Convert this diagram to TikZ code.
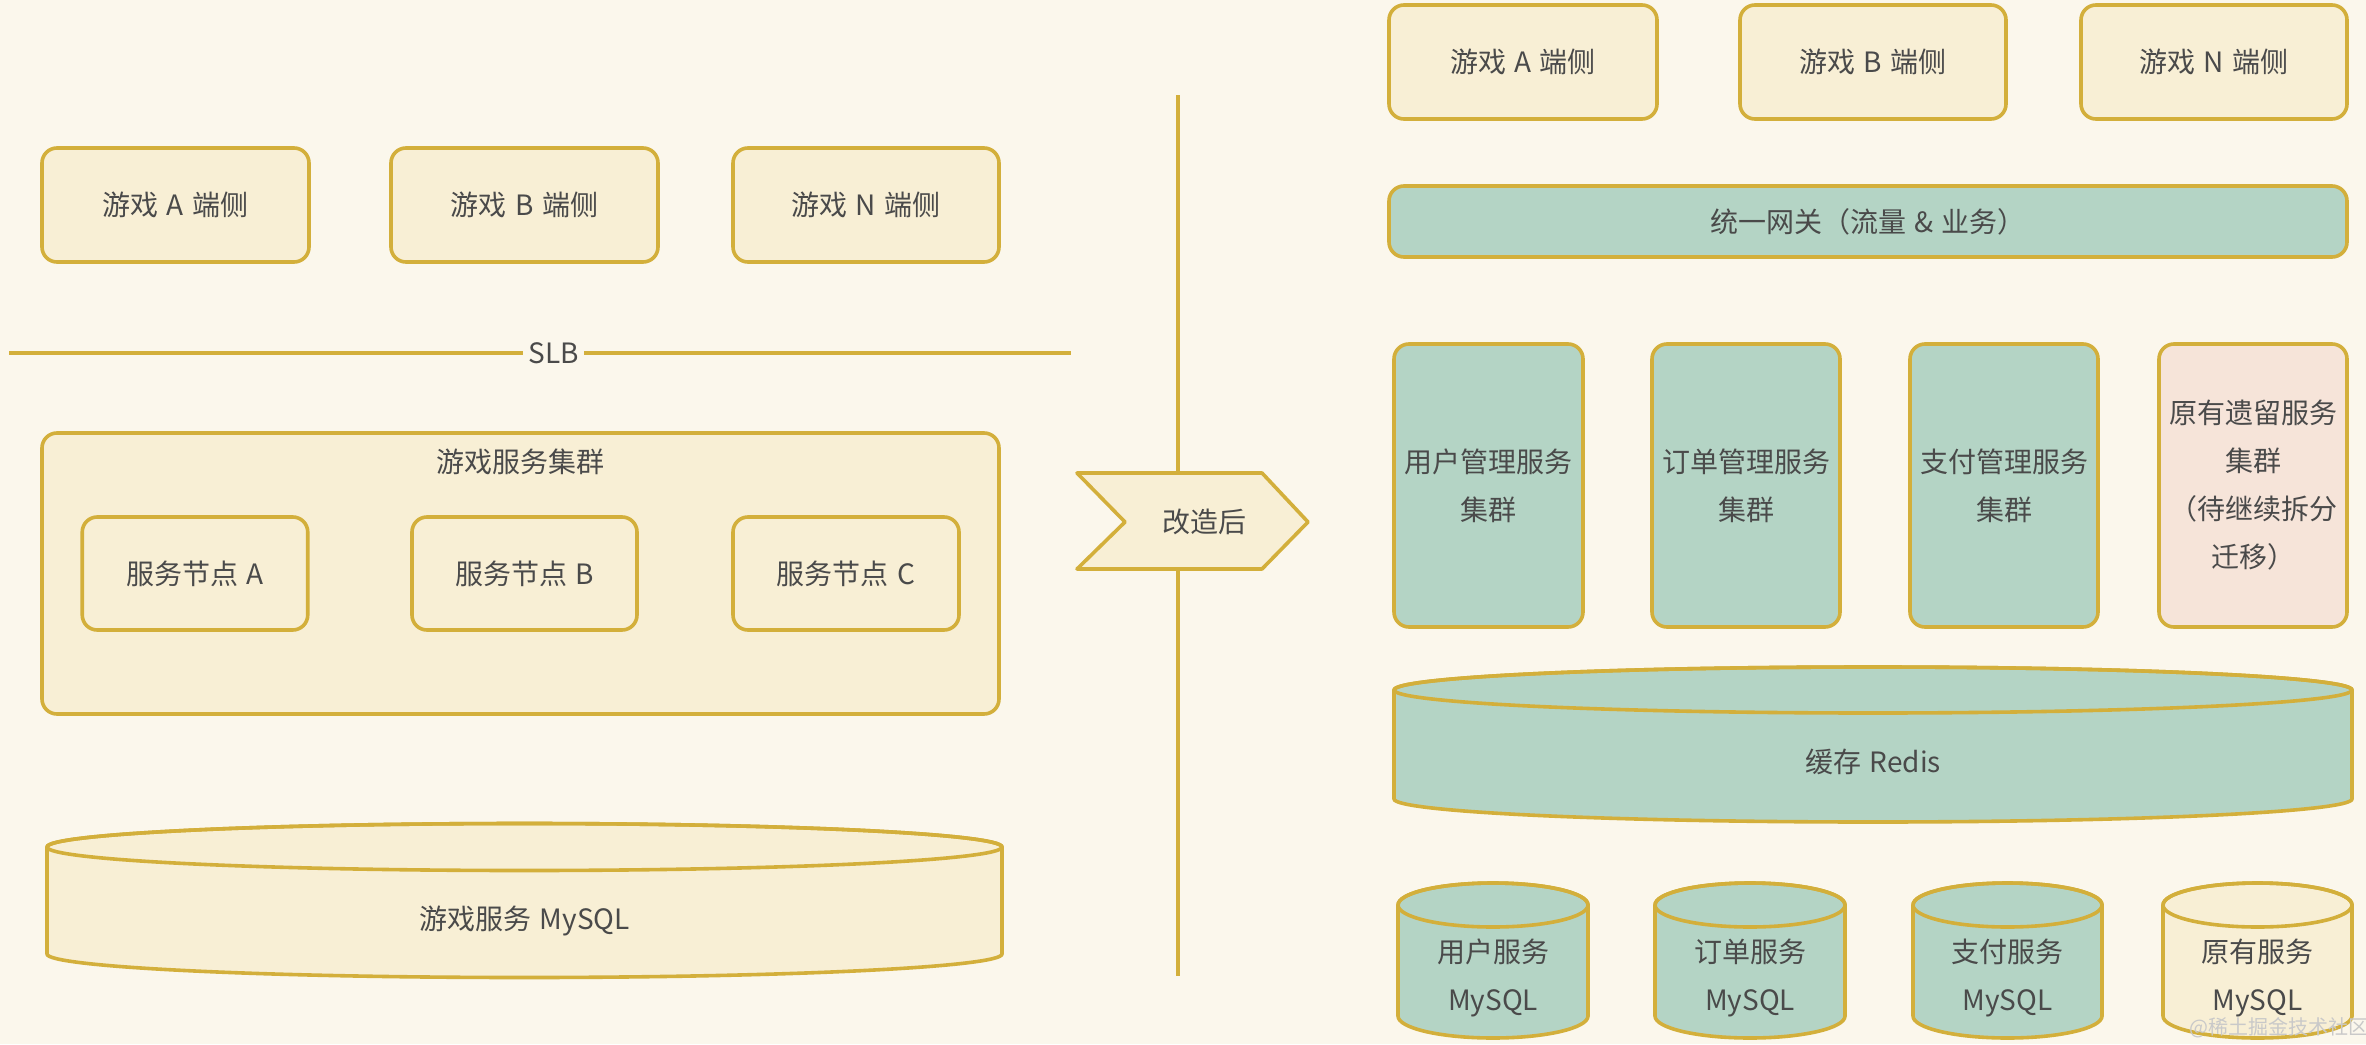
\documentclass[tikz,border=0pt]{standalone}
\usepackage{fontspec}
\setmainfont{Noto Sans CJK SC}
\definecolor{bgc}{HTML}{FBF7EC}
\definecolor{cream}{HTML}{F8EFD5}
\definecolor{gold}{HTML}{D3AF3B}
\definecolor{greenf}{HTML}{B4D4C5}
\definecolor{pinkf}{HTML}{F6E4D9}
\definecolor{txtc}{HTML}{4A4A4A}
\definecolor{wmc}{HTML}{C9C9C9}
\newcommand\mydbcyl[6]{%
  \filldraw[fill=#6, draw=gold, line width=1.8pt]
    (#1-#4,#2) -- (#1-#4,#3) arc[start angle=180, end angle=0, x radius=#4, y radius=#5]
    -- (#1+#4,#2) arc[start angle=0, end angle=-180, x radius=#4, y radius=#5] -- cycle;
  \draw[draw=gold, line width=1.8pt] (#1,#2) ellipse[x radius=#4, y radius=#5];
}
\newcommand\gsp{\hspace{0.3em}}
\begin{document}
\begin{tikzpicture}[x=0.5pt,y=-0.5pt, line join=round,
  txt/.style={text=txtc, font=\fontsize{14}{24}\selectfont, align=center, inner sep=0pt},
  box/.style={txt, draw=gold, line width=1.8pt, rounded corners=7.5pt, fill=cream},
  gbox/.style={box, fill=greenf},
  pbox/.style={box, fill=pinkf},
  gline/.style={draw=gold, line width=2pt}]
\fill[bgc] (0,0) rectangle (2366,1044);
\useasboundingbox (0,0) rectangle (2366,1044);

% ---------- left side ----------
\node[box, minimum width=133.5pt, minimum height=57pt] (la) at (175.5,205) {游戏\gsp A\gsp 端侧};
\node[box, minimum width=133.5pt, minimum height=57pt] (lb) at (524.5,205) {游戏\gsp B\gsp 端侧};
\node[box, minimum width=133pt, minimum height=57pt] (ln) at (866,205) {游戏\gsp N\gsp 端侧};

\coordinate (slbL) at (9,353);
\coordinate (slbR) at (1071,353);
\node[txt, inner xsep=2.5pt] (slb) at (553.5,353) {SLB};
\draw[gline] (slbL) -- (slb.west) (slb.east) -- (slbR);

\node[box, minimum width=478.5pt, minimum height=140.5pt] (cl) at (520.5,573.5) {};
\node[txt] (clt) at (520.5,462) {游戏服务集群};
\node[box, minimum width=112.75pt, minimum height=56.5pt] (sa) at (195,573.5) {服务节点\gsp A};
\node[box, minimum width=112.5pt, minimum height=56.5pt] (sb) at (524.5,573.5) {服务节点\gsp B};
\node[box, minimum width=113pt, minimum height=56.5pt] (sc) at (846,573.5) {服务节点\gsp C};

\mydbcyl{524.5}{847}{954}{477.5}{23.5}{cream}
\node[txt] (lsql) at (524.5,921) {游戏服务\gsp MySQL};

% ---------- divider ----------
\coordinate (vt) at (1178,95);
\coordinate (vb) at (1178,976);
\draw[gline] (vt) -- (vb);
\filldraw[fill=cream, draw=gold, line width=1.8pt]
  (1077,473) -- (1262,473) -- (1308,522) -- (1262,569) -- (1077,569) -- (1125,522) -- cycle;
\node[txt] (gz) at (1204,522) {改造后};

% ---------- right side ----------
\node[box, minimum width=134pt, minimum height=57pt] (ra) at (1523,62) {游戏\gsp A\gsp 端侧};
\node[box, minimum width=133pt, minimum height=57pt] (rb) at (1873,62) {游戏\gsp B\gsp 端侧};
\node[box, minimum width=133pt, minimum height=57pt] (rn) at (2214,62) {游戏\gsp N\gsp 端侧};

\node[gbox, minimum width=479pt, minimum height=35.5pt] (gw) at (1868,221.5) {统一网关（流量\gsp\&\gsp 业务）};

\node[gbox, minimum width=94.5pt, minimum height=141.5pt] (s1) at (1488.5,485.5) {用户管理服务\\集群};
\node[gbox, minimum width=94pt, minimum height=141.5pt] (s2) at (1746,485.5) {订单管理服务\\集群};
\node[gbox, minimum width=94pt, minimum height=141.5pt] (s3) at (2004,485.5) {支付管理服务\\集群};
\node[pbox, minimum width=94pt, minimum height=141.5pt] (s4) at (2253,485.5) {原有遗留服务\\集群\\（待继续拆分\\迁移）};

\mydbcyl{1873}{690}{799}{479}{23}{greenf}
\node[txt] (redis) at (1873,762) {缓存\gsp Redis};

\mydbcyl{1493}{905}{1016}{95}{22}{greenf}
\mydbcyl{1750}{905}{1016}{95}{22}{greenf}
\mydbcyl{2007.5}{905}{1016}{94.5}{22}{greenf}
\mydbcyl{2257.5}{905}{1016}{94.5}{22}{cream}
\node[txt] (d1) at (1493,977.5) {用户服务\\MySQL};
\node[txt] (d2) at (1750,977.5) {订单服务\\MySQL};
\node[txt] (d3) at (2007.5,977.5) {支付服务\\MySQL};
\node[txt] (d4) at (2257.5,977.5) {原有服务\\MySQL};

\node[text=wmc, font=\fontsize{10}{12}\selectfont, inner sep=0pt] (wm) at (2279,1028) {@稀土掘金技术社区};
\end{tikzpicture}
\end{document}
